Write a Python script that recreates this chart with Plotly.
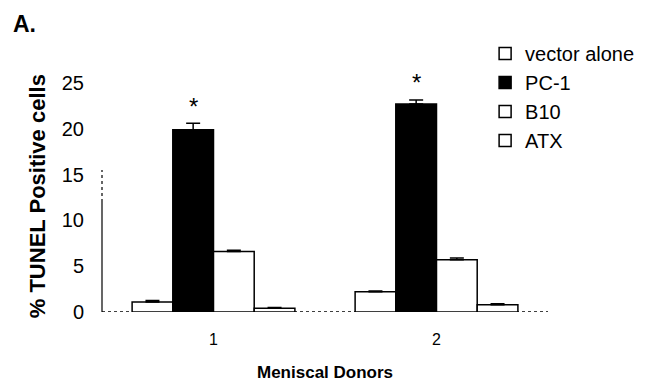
import plotly.graph_objects as go

donors = ["1", "2"]
series_names = ["vector alone", "PC-1", "B10", "ATX"]
vector_alone = [1.1, 2.2]
pc1 = [19.9, 22.7]
b10 = [6.6, 5.7]
atx = [0.4, 0.8]
vector_err = [0.15, 0.1]
pc1_err = [0.7, 0.45]
b10_err = [0.15, 0.2]
atx_err = [0.1, 0.1]
significant = [True, True]
y_ticks = [0, 5, 10, 15, 20, 25]

FONT = "Arial, Liberation Sans, sans-serif"
BARGAP = 0.27

values = [vector_alone, pc1, b10, atx]
errors = [vector_err, pc1_err, b10_err, atx_err]
fills = ["white", "black", "white", "white"]

fig = go.Figure()
for name, vals, errs, fc in zip(series_names, values, errors, fills):
    fig.add_trace(go.Bar(
        x=donors, y=vals, name=name,
        marker=dict(color=fc, line=dict(color="black", width=1.5)),
        error_y=dict(type="data", array=errs, arrayminus=[0] * len(errs), symmetric=False,
                     color="black", thickness=1.5, width=7),
    ))

# asterisks above PC-1 bars
grp_w = 1 - BARGAP
pc1_offset = grp_w * (1.5 / 4 - 0.5)
for i, (v, e, s) in enumerate(zip(pc1, pc1_err, significant)):
    if s:
        fig.add_annotation(x=i + pc1_offset, y=v + e, text="*", showarrow=False,
                           yanchor="middle", yshift=17, font=dict(family=FONT, size=24, color="black"))

# decorative axis lines resembling the scan
fig.add_shape(type="line", xref="paper", yref="y", x0=0, x1=1, y0=0, y1=0,
              line=dict(color="black", width=1.5, dash="dot"), layer="below")
fig.add_shape(type="line", xref="paper", yref="y", x0=1, x1=1, y0=0, y1=-0.55,
              line=dict(color="black", width=1.2))
fig.add_shape(type="line", xref="paper", yref="y", x0=0, x1=0, y0=0, y1=12,
              line=dict(color="black", width=1.2))
fig.add_shape(type="line", xref="paper", yref="y", x0=0, x1=0, y0=12, y1=15.5,
              line=dict(color="black", width=1.2, dash="dot"))

fig.add_annotation(xref="paper", yref="paper", x=-0.205, y=1.325, xanchor="left", yanchor="top",
                   text="<b>A.</b>", showarrow=False, font=dict(family=FONT, size=23, color="black"))
fig.add_annotation(xref="paper", yref="paper", x=-0.146, y=0.505, xanchor="center", yanchor="middle",
                   textangle=-90,
                   text="<b>% TUNEL Positive cells</b>", showarrow=False,
                   font=dict(family=FONT, size=22, color="black"))
fig.add_annotation(xref="paper", yref="paper", x=0.5, y=-0.265, xanchor="center", yanchor="middle",
                   text="<b>Meniscal Donors</b>", showarrow=False,
                   font=dict(family=FONT, size=17, color="black"))

# page body has an 8px margin; figure is sized so the plot area lands where the reference has it
fig.update_layout(
    width=637, height=375,
    margin=dict(l=94, r=97, t=75, b=71, autoexpand=False),
    paper_bgcolor="white", plot_bgcolor="white",
    barmode="group", bargap=BARGAP, bargroupgap=0,
    font=dict(family=FONT, color="black"),
    showlegend=True,
    legend=dict(xref="container", yref="container", x=0.749, y=0.931,
                xanchor="left", yanchor="top",
                font=dict(family=FONT, size=20, color="black"),
                bgcolor="rgba(0,0,0,0)", itemwidth=30, tracegroupgap=0),
    xaxis=dict(type="category", range=[-0.5, 1.5], showline=False, showgrid=False,
               zeroline=False, ticks="", tickfont=dict(family=FONT, size=16),
               ticklabelstandoff=16),
    yaxis=dict(range=[0, 25], tickvals=y_ticks, showline=False, showgrid=False,
               zeroline=False, ticks="", tickfont=dict(family=FONT, size=20),
               ticklabelstandoff=17),
)

fig.write_html("out.html")
